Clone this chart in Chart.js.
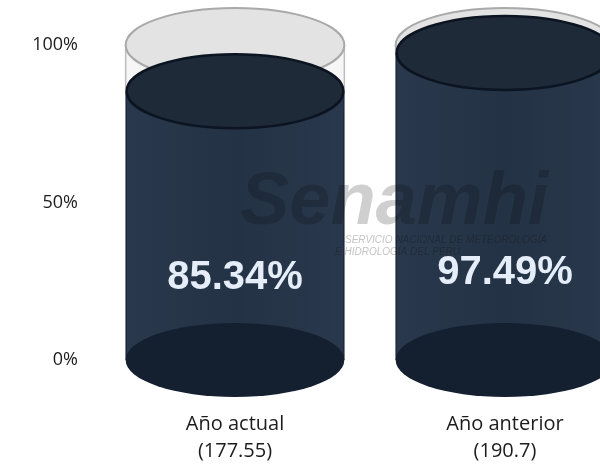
<!DOCTYPE html>
<html lang="es">
<head>
  <meta charset="UTF-8">
  <title>Año actual vs Año anterior</title>
  <script src="https://cdn.jsdelivr.net/npm/chart.js"></script>
  <style>
    html, body {
      margin: 0;
      padding: 0;
      background: #fff;
      overflow: hidden;
    }
    #frame {
      width: 600px;
      height: 466px;
      overflow: hidden;
      position: relative;
    }
    #wrap {
      width: 660px;
      height: 466px;
      position: absolute;
      left: 0;
      top: 0;
    }
  </style>
</head>
<body>
  <div id="frame">
    <div id="wrap"><canvas id="myChart"></canvas></div>
  </div>

  <script>
    // chart data
    var categories = [['Año actual', '(177.55)'], ['Año anterior', '(190.7)']];
    var percentValues = [85.34, 97.49];
    var capacityValues = [100, 100];
    var yTicks = [0, 50, 100];

    // draws the 3d cylinders on top of the (transparent) bars
    var cylinderPlugin = {
      id: 'cylinders',
      afterDatasetsDraw: function (chart) {
        var ctx = chart.ctx;
        var ry = 37;
        var capMeta = chart.getDatasetMeta(1);
        var valMeta = chart.getDatasetMeta(0);

        valMeta.data.forEach(function (bar, i) {
          var cap = capMeta.data[i];
          var cx = bar.x;
          var rx = bar.width / 2;
          var base = bar.base;
          var top = bar.y;
          var capTop = cap.y;

          ctx.save();

          // back cylinder (capacity 100%)
          ctx.fillStyle = '#f6f6f6';
          ctx.fillRect(cx - rx, capTop, rx * 2, top - capTop);
          ctx.strokeStyle = '#bdbdbd';
          ctx.lineWidth = 1.5;
          ctx.beginPath();
          ctx.moveTo(cx - rx, capTop);
          ctx.lineTo(cx - rx, top);
          ctx.moveTo(cx + rx, capTop);
          ctx.lineTo(cx + rx, top);
          ctx.stroke();
          ctx.beginPath();
          ctx.ellipse(cx, capTop, rx, ry, 0, 0, Math.PI * 2);
          ctx.fillStyle = '#e3e3e3';
          ctx.fill();
          ctx.strokeStyle = '#a9a9a9';
          ctx.lineWidth = 2;
          ctx.stroke();

          // body
          var grad = ctx.createLinearGradient(cx - rx, 0, cx + rx, 0);
          grad.addColorStop(0, '#29384c');
          grad.addColorStop(0.5, '#243245');
          grad.addColorStop(1, '#29384c');
          ctx.fillStyle = grad;
          ctx.fillRect(cx - rx, top, rx * 2, base - top);
          ctx.strokeStyle = '#1a2535';
          ctx.lineWidth = 1;
          ctx.beginPath();
          ctx.moveTo(cx - rx + 0.5, top);
          ctx.lineTo(cx - rx + 0.5, base);
          ctx.moveTo(cx + rx - 0.5, top);
          ctx.lineTo(cx + rx - 0.5, base);
          ctx.stroke();

          // bottom ellipse
          ctx.beginPath();
          ctx.ellipse(cx, base, rx, ry, 0, 0, Math.PI * 2);
          ctx.fillStyle = '#141f30';
          ctx.fill();

          // top ellipse
          ctx.beginPath();
          ctx.ellipse(cx, top, rx - 1, ry, 0, 0, Math.PI * 2);
          ctx.fillStyle = '#1f2a39';
          ctx.fill();
          ctx.strokeStyle = '#0b1420';
          ctx.lineWidth = 2.5;
          ctx.stroke();

          ctx.restore();
        });

        // watermark
        ctx.save();
        ctx.globalCompositeOperation = 'multiply';
        ctx.fillStyle = '#cfcfcf';
        ctx.font = 'italic bold 74px "Liberation Sans", Arial, sans-serif';
        ctx.textBaseline = 'alphabetic';
        ctx.textAlign = 'left';
        ctx.fillText('Senamhi', 240, 224);
        ctx.font = 'italic 10px "Liberation Sans", Arial, sans-serif';
        ctx.fillStyle = '#c4c4c4';
        ctx.fillText('SERVICIO NACIONAL DE METEOROLOGÍA', 345, 243);
        ctx.fillText('E HIDROLOGÍA DEL PERÚ', 335, 255);
        ctx.restore();

        // value labels
        var yScale = chart.scales.y;
        ctx.save();
        ctx.fillStyle = '#e4edf8';
        ctx.font = 'bold 40px "Liberation Sans", Arial, sans-serif';
        ctx.textAlign = 'center';
        ctx.textBaseline = 'middle';
        valMeta.data.forEach(function (bar, i) {
          var v = percentValues[i];
          var y = yScale.getPixelForValue(15 + v * 0.13);
          ctx.fillText(v.toFixed(2) + '%', bar.x, y);
        });
        ctx.restore();
      }
    };

    var ctx = document.getElementById('myChart').getContext('2d');

    var myChart = new Chart(ctx, {
      type: 'bar',
      data: {
        labels: categories,
        datasets: [{
          label: 'Porcentaje',
          data: percentValues,
          backgroundColor: 'rgba(0,0,0,0)',
          borderWidth: 0,
          grouped: false,
          categoryPercentage: 0.81,
          barPercentage: 1
        }, {
          label: 'Capacidad',
          data: capacityValues,
          backgroundColor: 'rgba(0,0,0,0)',
          borderWidth: 0,
          grouped: false,
          categoryPercentage: 0.81,
          barPercentage: 1
        }]
      },
      options: {
        responsive: true,
        maintainAspectRatio: false,
        animation: false,
        layout: {
          padding: { left: 0, right: 20, top: 45, bottom: 0 }
        },
        plugins: {
          legend: { display: false },
          tooltip: { enabled: false }
        },
        scales: {
          x: {
            grid: { display: false, drawTicks: false },
            border: { display: false },
            ticks: {
              padding: 51,
              color: '#1c1c1c',
              font: { family: '"Open Sans", sans-serif', size: 20, lineHeight: 1.35 }
            },
            afterFit: function (s) { s.height = 106; }
          },
          y: {
            min: 0,
            max: 100,
            grid: { display: false, drawTicks: false },
            border: { display: false },
            afterBuildTicks: function (s) {
              s.ticks = yTicks.map(function (v) { return { value: v }; });
            },
            ticks: {
              padding: 22,
              color: '#1c1c1c',
              font: { family: '"Open Sans", sans-serif', size: 18 },
              callback: function (v) { return v + '%'; }
            },
            afterFit: function (s) { s.width = 100; }
          }
        }
      },
      plugins: [cylinderPlugin]
    });
  </script>
</body>
</html>
